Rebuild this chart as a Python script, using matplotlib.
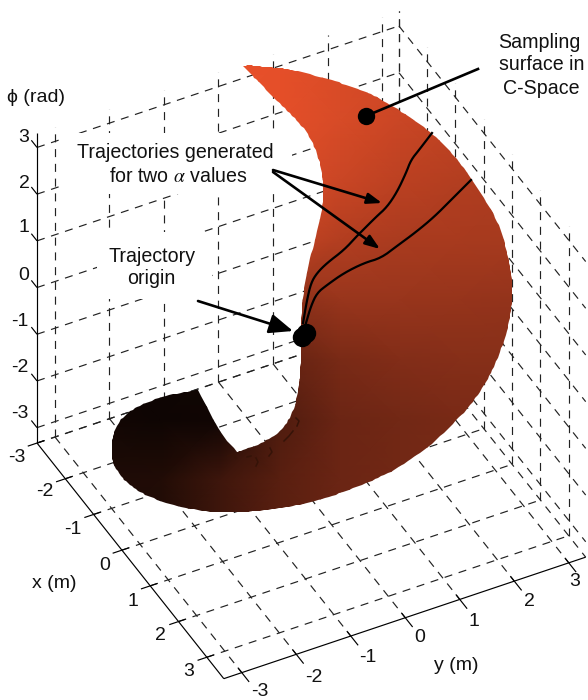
import numpy as np
import matplotlib
matplotlib.use("Agg")
import matplotlib.pyplot as plt
from matplotlib.colors import LinearSegmentedColormap
from matplotlib.patches import PathPatch, Rectangle
from matplotlib.path import Path

plt.rcParams['font.family'] = ['Liberation Sans', 'DejaVu Sans']
plt.rcParams['mathtext.fontset'] = 'stix'

# ---- data ----
x_ticks = [-3, -2, -1, 0, 1, 2, 3]
y_ticks = [-3, -2, -1, 0, 1, 2, 3]
z_ticks = [-3, -2, -1, 0, 1, 2, 3]
x_lim = (-3.0, 3.6)
y_lim = (-3.33, 3.31)
z_lim = (-3.33, 3.31)

# outline, in three runs split at its sharp corners
edge_outer_h = [243, 250, 265, 280, 294, 331, 357, 377, 407, 432, 454, 471, 487, 502, 507, 512, 512, 507, 497, 486, 467, 434, 401, 377, 351, 324, 294, 267, 233, 200, 167, 143, 127, 113, 111, 113, 123, 140, 167, 198]
edge_outer_v = [66, 65, 67, 68, 70, 80, 88, 97, 115, 133, 155, 178, 203, 230, 253, 276, 306, 333, 360, 383, 410, 443, 466, 479, 489, 499, 506, 510, 513, 511, 504, 494, 483, 466, 450, 433, 416, 405, 395, 390]
edge_cut_h = [198, 210, 223, 237]
edge_cut_v = [390, 413, 437, 452]
edge_inner_h = [237, 263, 283, 295, 300, 301, 301, 307, 317, 324, 322, 311, 294, 273, 257, 243]
edge_inner_v = [452, 443, 430, 408, 380, 350, 310, 270, 233, 200, 167, 137, 117, 97, 80, 66]

shade_h = [100, 160, 220, 280, 340, 400, 460, 520]
shade_v = [60, 120, 180, 240, 300, 360, 420, 480, 540]
shade = [
    [1.00, 1.00, 1.00, 0.98, 0.93, 0.88, 0.85, 0.80],
    [1.00, 1.00, 1.00, 0.98, 0.92, 0.86, 0.82, 0.78],
    [1.00, 1.00, 1.00, 0.95, 0.86, 0.80, 0.76, 0.72],
    [0.90, 0.90, 0.90, 0.85, 0.76, 0.72, 0.71, 0.70],
    [0.50, 0.50, 0.50, 0.58, 0.64, 0.64, 0.63, 0.62],
    [0.03, 0.03, 0.05, 0.40, 0.50, 0.54, 0.56, 0.56],
    [0.05, 0.03, 0.04, 0.32, 0.44, 0.47, 0.50, 0.50],
    [0.10, 0.11, 0.24, 0.36, 0.44, 0.47, 0.50, 0.50],
    [0.10, 0.11, 0.24, 0.36, 0.44, 0.47, 0.50, 0.50],
]

traj1_h = [303, 307, 311, 317, 327, 344, 357, 361, 376, 387, 397, 406, 411, 419, 432]
traj1_v = [323, 300, 283, 273, 263, 250, 236, 232, 217, 207, 192, 173, 160, 150, 133]
traj2_h = [306, 311, 317, 327, 344, 364, 381, 397, 416, 434, 451, 471]
traj2_v = [323, 306, 293, 285, 273, 263, 258, 246, 232, 217, 200, 180]

speck_h = [[296, 299, 297], [284, 289, 293], [270, 272, 269], [256, 258, 256], [228, 232, 236], [247, 251]]
speck_v = [[418, 421, 426], [441, 436, 431], [448, 452, 456], [458, 462, 466], [456, 454, 458], [457, 456]]

# ---- pixel projection of the 3-D box ----
OX, OY = 303.4, 333.7
EX = (28.3, 35.7)
EY = (54.5, -18.3)
EZ = (0.0, -46.7)


def P(x, y, z):
    x, y, z = np.asarray(x, float), np.asarray(y, float), np.asarray(z, float)
    return (OX + x * EX[0] + y * EY[0] + z * EZ[0],
            OY + x * EX[1] + y * EY[1] + z * EZ[1])


def smooth(h, v, passes=3):
    """Corner-cutting for drawing a read-off polyline; the end points stay put."""
    pts = np.column_stack([h, v]).astype(float)
    for _ in range(passes):
        q = 0.75 * pts[:-1] + 0.25 * pts[1:]
        r = 0.25 * pts[:-1] + 0.75 * pts[1:]
        mid = np.empty((2 * len(q), 2))
        mid[0::2] = q
        mid[1::2] = r
        pts = np.vstack([pts[:1], mid, pts[-1:]])
    return pts


fig = plt.figure(figsize=(5.88, 7.0), dpi=100)
ax = fig.add_axes([0, 0, 1, 1])
ax.set_xlim(0, 588)
ax.set_ylim(700, 0)
ax.axis('off')

grid_kw = dict(color='#222222', lw=0.85, ls=(0, (6.8, 5.7)), zorder=1)
x0, x1 = x_lim
y0, y1 = y_lim
z0, z1 = z_lim


def seg(a, b, **kw):
    px, py = P([a[0], b[0]], [a[1], b[1]], [a[2], b[2]])
    ax.plot(px, py, **kw)


for t in y_ticks:
    seg((x0, t, z0), (x0, t, z1), **grid_kw)
    seg((x0, t, z0), (x1, t, z0), **grid_kw)
for t in x_ticks:
    seg((t, y1, z0), (t, y1, z1), **grid_kw)
    seg((t, y0, z0), (t, y1, z0), **grid_kw)
for t in z_ticks:
    seg((x0, y0, t), (x0, y1, t), **grid_kw)
    seg((x0, y1, t), (x1, y1, t), **grid_kw)
seg((x0, y1, z0), (x0, y1, z1), **grid_kw)
seg((x0, y1, z0), (x1, y1, z0), **grid_kw)
seg((x0, y0, z0), (x0, y1, z0), **grid_kw)

# white boxes behind the annotations
ax.add_patch(Rectangle((60, 133), 232, 61, fc='white', ec='none', zorder=2))
ax.add_patch(Rectangle((97, 232), 115, 67, fc='white', ec='none', zorder=2))

# axes
axis_kw = dict(color='black', lw=0.85, zorder=6, solid_capstyle='butt')
seg((x0, y0, z0), (x0, y0, z1), **axis_kw)
seg((x0, y0, z0), (x1, y0, z0), **axis_kw)
seg((x1, y0, z0), (x1, y1, z0), **axis_kw)
for t in z_ticks:
    seg((x0 - 0.2, y0, t), (x0, y0, t), **axis_kw)
for t in x_ticks:
    seg((t, y0 - 0.17, z0), (t, y0 + 0.13, z0), **axis_kw)
for t in y_ticks:
    seg((x1 - 0.14, t, z0), (x1 + 0.26, t, z0), **axis_kw)

# surface
cmap = LinearSegmentedColormap.from_list('surf', ['#080302', '#E9512A'])
mesh = ax.pcolormesh(shade_h, shade_v, np.array(shade), cmap=cmap, vmin=0, vmax=1,
                     shading='gouraud', zorder=3)
verts = np.vstack([smooth(edge_outer_h, edge_outer_v),
                   smooth(edge_cut_h, edge_cut_v, 1),
                   smooth(edge_inner_h, edge_inner_v)])
clip = PathPatch(Path(np.vstack([verts, verts[:1]]), closed=True),
                 transform=ax.transData, fc='none', ec='none')
ax.add_patch(clip)
mesh.set_clip_path(clip)
for sx, sy in zip(speck_h, speck_v):
    ax.plot(sx, sy, color='#351308', lw=1.1, zorder=3.5)

# trajectories and markers
for th, tv in ((traj1_h, traj1_v), (traj2_h, traj2_v)):
    s = smooth(th, tv, 2)
    ax.plot(s[:, 0], s[:, 1], color='black', lw=1.6, zorder=7)
ax.plot([366], [116], 'o', color='black', ms=12.5, mew=0, zorder=8)
ax.plot([302, 306], [337, 333], 'o', color='black', ms=14, mew=0, zorder=8)

# arrows
ax.plot([478, 366], [69, 116], color='black', lw=1.9, zorder=8)
thin = dict(arrowstyle='-|>,head_length=0.55,head_width=0.2', color='black', lw=1.9,
            shrinkA=0, shrinkB=0, mutation_scale=16)
big = dict(arrowstyle='-|>,head_length=0.8,head_width=0.33', color='black', lw=1.9,
           shrinkA=0, shrinkB=0, mutation_scale=18)
ax.annotate('', xy=(382, 203), xytext=(273, 170), arrowprops=thin, zorder=8)
ax.annotate('', xy=(380, 249), xytext=(273, 172), arrowprops=thin, zorder=8)
ax.annotate('', xy=(293, 331), xytext=(198, 301), arrowprops=big, zorder=8)

# texts
fs = 14.1
lab = dict(ha='center', va='center', fontsize=fs, color='#111111', zorder=9)
ax.text(539, 43, 'Sampling', **lab)
ax.text(542, 65, 'surface in', **lab)
ax.text(541, 89, 'C-Space', **lab)
ax.text(175, 152, 'Trajectories generated', **lab)
ax.text(178, 177, r'for two $\alpha$ values', **lab)
ax.text(152, 256, 'Trajectory', **lab)
ax.text(151, 278, 'origin', **lab)

tl = dict(ha='center', va='center', fontsize=14, color='#111111', zorder=9)
z_lab_h = [20, 20, 20, 24, 24, 24, 24]
z_lab_v = [414, 368, 322, 276, 228, 183, 137]
for t, a, b in zip(z_ticks, z_lab_h, z_lab_v):
    ax.text(a, b, str(t), **tl)
x_lab_h = [17, 45, 73, 105, 133, 160, 189]
x_lab_v = [457, 492, 529, 565, 601, 636, 672]
for t, a, b in zip(x_ticks, x_lab_h, x_lab_v):
    ax.text(a, b, str(t), **tl)
y_lab_h = [260, 314, 368, 420, 474, 529, 575]
y_lab_v = [691, 677, 658, 638, 622, 602, 582]
for t, a, b in zip(y_ticks, y_lab_h, y_lab_v):
    ax.text(a, b, str(t), **tl)
ax.text(36, 98, '\u03d5 (rad)', **tl)
ax.text(54, 584, 'x (m)', **tl)
ax.text(456, 665, 'y (m)', **tl)

fig.savefig('out.png', dpi=100)
